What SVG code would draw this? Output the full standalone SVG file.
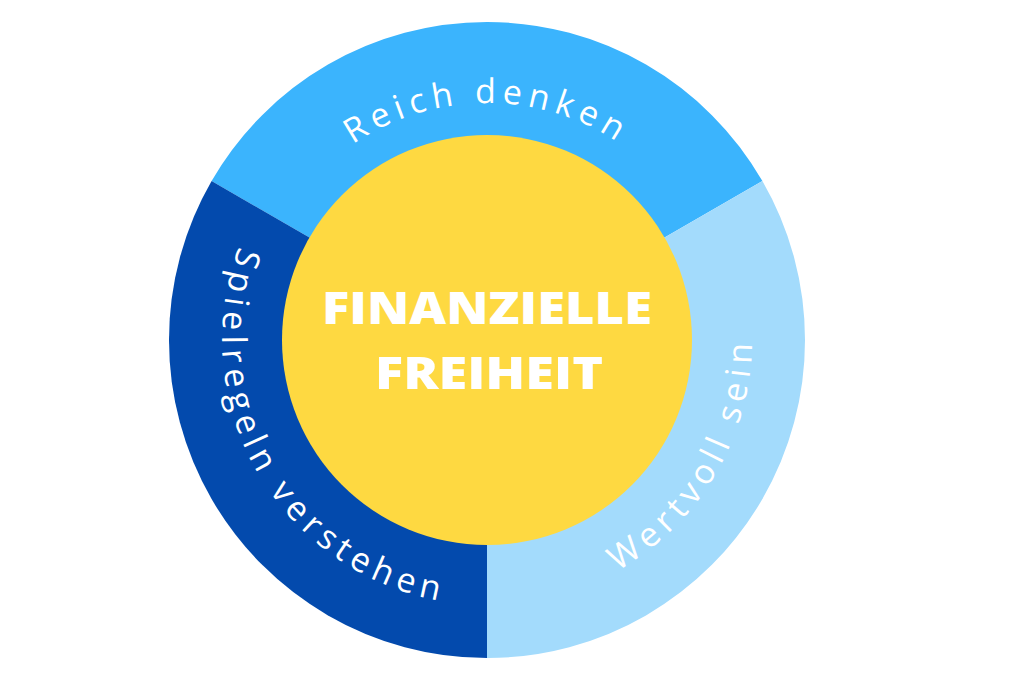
<svg xmlns="http://www.w3.org/2000/svg" width="1024" height="683" viewBox="0 0 1024 683">
  <style>
    .ring { font-family: "Open Sans", "Liberation Sans", sans-serif; font-size: 34px; font-weight: 500; fill: #ffffff; letter-spacing: 6px; }
    .center { font-family: "Open Sans", "Liberation Sans", sans-serif; font-size: 45px; font-weight: 800; fill: #ffffff; }
  </style>
  <defs>
    <path id="arcTop" d="M264.3,258.9 A237,237 0 0 1 709.7,258.9"/>
    <path id="arcRight" d="M441,601 A265,265 0 0 0 690,169.7"/>
    <path id="arcLeft" d="M284,169.7 A265,265 0 0 0 533,601"/>
  </defs>
  <rect width="1024" height="683" fill="#ffffff"/>
  <g id="segment-top">
    <path d="M487,340 L211.6,181 A318,318 0 0 1 762.4,181 Z" fill="#3BB4FD"/>
    <text class="ring" text-anchor="middle"><textPath href="#arcTop" startOffset="50%">Reich denken</textPath></text>
  </g>
  <g id="segment-right">
    <path d="M487,340 L762.4,181 A318,318 0 0 1 487,658 Z" fill="#A3DBFC"/>
    <text class="ring" text-anchor="middle"><textPath href="#arcRight" startOffset="50%">Wertvoll sein</textPath></text>
  </g>
  <g id="segment-left">
    <path d="M487,340 L487,658 A318,318 0 0 1 211.6,181 Z" fill="#034AAD"/>
    <text class="ring" text-anchor="middle"><textPath href="#arcLeft" startOffset="50%">Spielregeln verstehen</textPath></text>
  </g>
  <g id="center">
    <circle cx="487" cy="340" r="205" fill="#FED941"/>
    <text class="center" x="487" y="324" text-anchor="middle" textLength="330" lengthAdjust="spacingAndGlyphs">FINANZIELLE</text>
    <text class="center" x="489" y="389" text-anchor="middle" textLength="228" lengthAdjust="spacingAndGlyphs">FREIHEIT</text>
  </g>
</svg>
